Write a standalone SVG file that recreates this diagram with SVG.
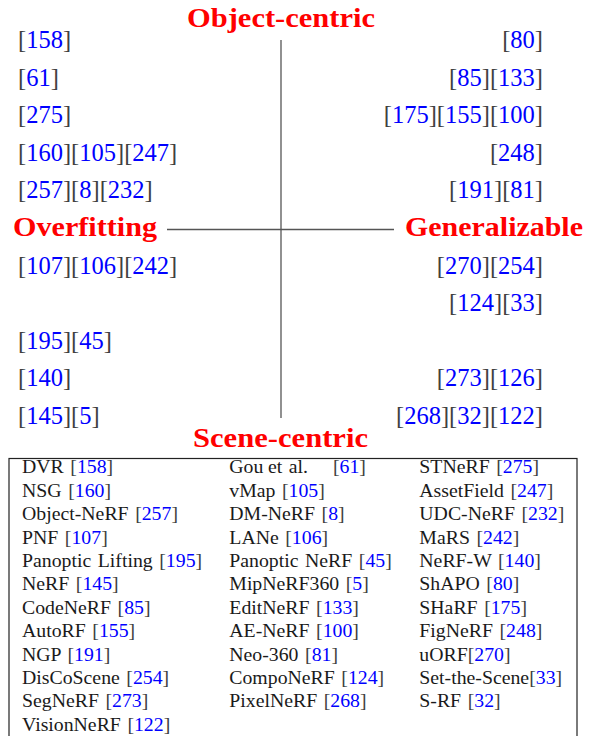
<svg xmlns="http://www.w3.org/2000/svg" width="600" height="736" viewBox="0 0 600 736">
<style>
.q{font-family:"Liberation Serif","Times New Roman",serif;font-weight:bold;font-size:27px;fill:#ff0000}
.c{font-family:"Liberation Serif","Times New Roman",serif;font-size:24.5px}
.b{fill:#404040}
.n{fill:#0000ff}
.t{font-family:"Liberation Serif","Times New Roman",serif;font-size:18.5px;fill:#1a1a1a;word-spacing:1.5px}
.ax{stroke:#555;stroke-width:1.3;fill:none}
.r{text-anchor:end}
</style>
<rect width="600" height="736" fill="#fff"/>
<g id="connectors">
<line class="ax" x1="281" y1="40" x2="281" y2="418"/>
<line class="ax" x1="167" y1="229.5" x2="394" y2="229.5"/>
</g>
<g id="label-object-centric"><text class="q" x="187" y="27" textLength="188" lengthAdjust="spacingAndGlyphs">Object-centric</text></g>
<g id="label-overfitting"><text class="q" x="13" y="236" textLength="144" lengthAdjust="spacingAndGlyphs">Overfitting</text></g>
<g id="label-generalizable"><text class="q" x="405" y="236" textLength="178" lengthAdjust="spacingAndGlyphs">Generalizable</text></g>
<g id="label-scene-centric"><text class="q" x="193" y="447" textLength="175" lengthAdjust="spacingAndGlyphs">Scene-centric</text></g>
<g id="left-citations" class="c">
<text x="18" y="48"><tspan class="b">[</tspan><tspan class="n">158</tspan><tspan class="b">]</tspan></text>
<text x="18" y="85.6"><tspan class="b">[</tspan><tspan class="n">61</tspan><tspan class="b">]</tspan></text>
<text x="18" y="123.2"><tspan class="b">[</tspan><tspan class="n">275</tspan><tspan class="b">]</tspan></text>
<text x="18" y="160.8"><tspan class="b">[</tspan><tspan class="n">160</tspan><tspan class="b">][</tspan><tspan class="n">105</tspan><tspan class="b">][</tspan><tspan class="n">247</tspan><tspan class="b">]</tspan></text>
<text x="18" y="198.4"><tspan class="b">[</tspan><tspan class="n">257</tspan><tspan class="b">][</tspan><tspan class="n">8</tspan><tspan class="b">][</tspan><tspan class="n">232</tspan><tspan class="b">]</tspan></text>
<text x="18" y="273.6"><tspan class="b">[</tspan><tspan class="n">107</tspan><tspan class="b">][</tspan><tspan class="n">106</tspan><tspan class="b">][</tspan><tspan class="n">242</tspan><tspan class="b">]</tspan></text>
<text x="18" y="348.8"><tspan class="b">[</tspan><tspan class="n">195</tspan><tspan class="b">][</tspan><tspan class="n">45</tspan><tspan class="b">]</tspan></text>
<text x="18" y="386.4"><tspan class="b">[</tspan><tspan class="n">140</tspan><tspan class="b">]</tspan></text>
<text x="18" y="424"><tspan class="b">[</tspan><tspan class="n">145</tspan><tspan class="b">][</tspan><tspan class="n">5</tspan><tspan class="b">]</tspan></text>
</g>
<g id="right-citations" class="c r">
<text class="r" x="543" y="48"><tspan class="b">[</tspan><tspan class="n">80</tspan><tspan class="b">]</tspan></text>
<text class="r" x="543" y="85.6"><tspan class="b">[</tspan><tspan class="n">85</tspan><tspan class="b">][</tspan><tspan class="n">133</tspan><tspan class="b">]</tspan></text>
<text class="r" x="543" y="123.2"><tspan class="b">[</tspan><tspan class="n">175</tspan><tspan class="b">][</tspan><tspan class="n">155</tspan><tspan class="b">][</tspan><tspan class="n">100</tspan><tspan class="b">]</tspan></text>
<text class="r" x="543" y="160.8"><tspan class="b">[</tspan><tspan class="n">248</tspan><tspan class="b">]</tspan></text>
<text class="r" x="543" y="198.4"><tspan class="b">[</tspan><tspan class="n">191</tspan><tspan class="b">][</tspan><tspan class="n">81</tspan><tspan class="b">]</tspan></text>
<text class="r" x="543" y="273.6"><tspan class="b">[</tspan><tspan class="n">270</tspan><tspan class="b">][</tspan><tspan class="n">254</tspan><tspan class="b">]</tspan></text>
<text class="r" x="543" y="311.2"><tspan class="b">[</tspan><tspan class="n">124</tspan><tspan class="b">][</tspan><tspan class="n">33</tspan><tspan class="b">]</tspan></text>
<text class="r" x="543" y="386.4"><tspan class="b">[</tspan><tspan class="n">273</tspan><tspan class="b">][</tspan><tspan class="n">126</tspan><tspan class="b">]</tspan></text>
<text class="r" x="543" y="424"><tspan class="b">[</tspan><tspan class="n">268</tspan><tspan class="b">][</tspan><tspan class="n">32</tspan><tspan class="b">][</tspan><tspan class="n">122</tspan><tspan class="b">]</tspan></text>
</g>
<g id="legend-table">
<rect x="9" y="458.5" width="568" height="290" fill="none" stroke="#222" stroke-width="1.2"/>
<g class="t" transform="scale(1.07 1)">
<text x="20.6" y="473.5">DVR <tspan class="b">[</tspan><tspan class="n">158</tspan><tspan class="b">]</tspan></text>
<text x="20.6" y="496.9">NSG <tspan class="b">[</tspan><tspan class="n">160</tspan><tspan class="b">]</tspan></text>
<text x="20.6" y="520.3">Object-NeRF <tspan class="b">[</tspan><tspan class="n">257</tspan><tspan class="b">]</tspan></text>
<text x="20.6" y="543.7">PNF <tspan class="b">[</tspan><tspan class="n">107</tspan><tspan class="b">]</tspan></text>
<text x="20.6" y="567.1">Panoptic Lifting <tspan class="b">[</tspan><tspan class="n">195</tspan><tspan class="b">]</tspan></text>
<text x="20.6" y="590.5">NeRF <tspan class="b">[</tspan><tspan class="n">145</tspan><tspan class="b">]</tspan></text>
<text x="20.6" y="613.9">CodeNeRF <tspan class="b">[</tspan><tspan class="n">85</tspan><tspan class="b">]</tspan></text>
<text x="20.6" y="637.3">AutoRF <tspan class="b">[</tspan><tspan class="n">155</tspan><tspan class="b">]</tspan></text>
<text x="20.6" y="660.7">NGP <tspan class="b">[</tspan><tspan class="n">191</tspan><tspan class="b">]</tspan></text>
<text x="20.6" y="684.1">DisCoScene <tspan class="b">[</tspan><tspan class="n">254</tspan><tspan class="b">]</tspan></text>
<text x="20.6" y="707.5">SegNeRF <tspan class="b">[</tspan><tspan class="n">273</tspan><tspan class="b">]</tspan></text>
<text x="20.6" y="730.9">VisionNeRF <tspan class="b">[</tspan><tspan class="n">122</tspan><tspan class="b">]</tspan></text>

<text x="214.3" y="473.5">Gou<tspan x="250.5">et al.</tspan><tspan class="b" x="311.2">[</tspan><tspan class="n">61</tspan><tspan class="b">]</tspan></text>
<text x="214.3" y="496.9">vMap <tspan class="b">[</tspan><tspan class="n">105</tspan><tspan class="b">]</tspan></text>
<text x="214.3" y="520.3">DM-NeRF <tspan class="b">[</tspan><tspan class="n">8</tspan><tspan class="b">]</tspan></text>
<text x="214.3" y="543.7">LANe <tspan class="b">[</tspan><tspan class="n">106</tspan><tspan class="b">]</tspan></text>
<text x="214.3" y="567.1">Panoptic NeRF <tspan class="b">[</tspan><tspan class="n">45</tspan><tspan class="b">]</tspan></text>
<text x="214.3" y="590.5">MipNeRF360 <tspan class="b">[</tspan><tspan class="n">5</tspan><tspan class="b">]</tspan></text>
<text x="214.3" y="613.9">EditNeRF <tspan class="b">[</tspan><tspan class="n">133</tspan><tspan class="b">]</tspan></text>
<text x="214.3" y="637.3">AE-NeRF <tspan class="b">[</tspan><tspan class="n">100</tspan><tspan class="b">]</tspan></text>
<text x="214.3" y="660.7">Neo-360 <tspan class="b">[</tspan><tspan class="n">81</tspan><tspan class="b">]</tspan></text>
<text x="214.3" y="684.1">CompoNeRF <tspan class="b">[</tspan><tspan class="n">124</tspan><tspan class="b">]</tspan></text>
<text x="214.3" y="707.5">PixelNeRF <tspan class="b">[</tspan><tspan class="n">268</tspan><tspan class="b">]</tspan></text>

<text x="391.9" y="473.5">STNeRF <tspan class="b">[</tspan><tspan class="n">275</tspan><tspan class="b">]</tspan></text>
<text x="391.9" y="496.9">AssetField <tspan class="b">[</tspan><tspan class="n">247</tspan><tspan class="b">]</tspan></text>
<text x="391.9" y="520.3">UDC-NeRF <tspan class="b">[</tspan><tspan class="n">232</tspan><tspan class="b">]</tspan></text>
<text x="391.9" y="543.7">MaRS <tspan class="b">[</tspan><tspan class="n">242</tspan><tspan class="b">]</tspan></text>
<text x="391.9" y="567.1">NeRF-W <tspan class="b">[</tspan><tspan class="n">140</tspan><tspan class="b">]</tspan></text>
<text x="391.9" y="590.5">ShAPO <tspan class="b">[</tspan><tspan class="n">80</tspan><tspan class="b">]</tspan></text>
<text x="391.9" y="613.9">SHaRF <tspan class="b">[</tspan><tspan class="n">175</tspan><tspan class="b">]</tspan></text>
<text x="391.9" y="637.3">FigNeRF <tspan class="b">[</tspan><tspan class="n">248</tspan><tspan class="b">]</tspan></text>
<text x="391.9" y="660.7">uORF<tspan class="b">[</tspan><tspan class="n">270</tspan><tspan class="b">]</tspan></text>
<text x="391.9" y="684.1">Set-the-Scene<tspan class="b">[</tspan><tspan class="n">33</tspan><tspan class="b">]</tspan></text>
<text x="391.9" y="707.5">S-RF <tspan class="b">[</tspan><tspan class="n">32</tspan><tspan class="b">]</tspan></text>
</g>
</g>
</svg>
